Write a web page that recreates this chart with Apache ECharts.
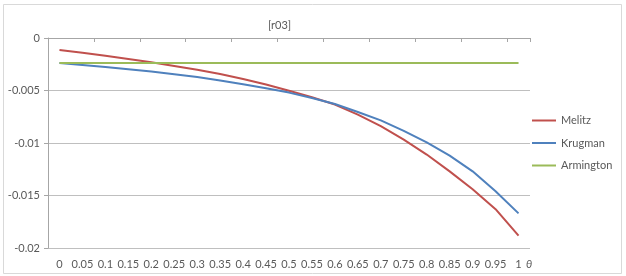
<!DOCTYPE html>
<html>
<head>
<meta charset="utf-8">
<script src="https://cdn.jsdelivr.net/npm/echarts@6/dist/echarts.min.js"></script>
<style>
  html, body { margin: 0; padding: 0; background: #fff; }
  #chart { width: 626px; height: 276px; }
</style>
</head>
<body>
<div id="chart"></div>
<script>
// theta from 0 to 1
const thetaLabels = ['0','0.05','0.1','0.15','0.2','0.25','0.3','0.35','0.4','0.45','0.5',
  '0.55','0.6','0.65','0.7','0.75','0.8','0.85','0.9','0.95','1'];

const melitz = [-0.00115,-0.00140,-0.00168,-0.00199,-0.00232,-0.00266,-0.00302,-0.00343,
  -0.00390,-0.00443,-0.00502,-0.00565,-0.00634,-0.00730,-0.00840,-0.00968,-0.01110,
  -0.01270,-0.01440,-0.01630,-0.01883];

const krugman = [-0.00238,-0.00256,-0.00276,-0.00297,-0.00320,-0.00345,-0.00372,-0.00405,
  -0.00440,-0.00478,-0.00520,-0.00572,-0.00628,-0.00705,-0.00785,-0.00885,-0.00995,
  -0.01120,-0.01270,-0.01460,-0.01670];

const armington = [-0.00238,-0.00238,-0.00238,-0.00238,-0.00238,-0.00238,-0.00238,-0.00238,
  -0.00238,-0.00238,-0.00238,-0.00238,-0.00238,-0.00238,-0.00238,-0.00238,-0.00238,
  -0.00238,-0.00238,-0.00238,-0.00238];

const yTicks = ['0', '-0.005', '-0.01', '-0.015', '-0.02'];

const FONT = 'Lato, "Liberation Sans", sans-serif';
const TXT = '#595959';

const chart = echarts.init(document.getElementById('chart'), null, { renderer: 'canvas' });

function lineSeries(name, data, color) {
  return {
    name, type: 'line', data,
    xAxisIndex: 0,
    symbol: 'none',
    smooth: false,
    lineStyle: { color, width: 2 },
    itemStyle: { color },
  };
}

chart.setOption({
  animation: false,
  backgroundColor: '#fff',
  graphic: [{
    type: 'rect',
    shape: { x: 3.5, y: 4.5, width: 618, height: 269 },
    style: { fill: 'none', stroke: '#d9d9d9', lineWidth: 1 },
    silent: true,
  }, {
    // axis title after the last category label
    type: 'text',
    x: 526, y: 259,
    style: { text: 'θ', fill: TXT, font: 'italic 11px ' + FONT },
    silent: true,
  }],
  title: {
    text: '[r03]',
    left: 263, top: 15,
    textStyle: { color: TXT, fontSize: 11, fontWeight: 'normal', fontFamily: FONT },
  },
  legend: {
    orient: 'vertical',
    left: 527, top: 109,
    icon: 'rect',
    itemWidth: 24, itemHeight: 2, itemGap: 9.5,
    textStyle: { color: TXT, fontSize: 11, fontFamily: FONT, lineHeight: 13 },
    data: ['Melitz', 'Krugman', 'Armington'],
  },
  grid: { left: 48, right: 96, top: 38, bottom: 28 },
  xAxis: [{
    type: 'category',
    position: 'top',
    data: thetaLabels,
    boundaryGap: true,
    axisLine: { show: true, onZero: false, lineStyle: { color: '#a6a6a6' } },
    axisTick: { show: true, inside: true, length: 4, lineStyle: { color: '#a6a6a6' } },
    axisLabel: { show: false },
    splitLine: { show: false },
  }, {
    type: 'category',
    position: 'bottom',
    data: thetaLabels,
    boundaryGap: true,
    axisLine: { show: false },
    axisTick: { show: false },
    axisLabel: { interval: 0, color: TXT, fontSize: 11, fontFamily: FONT, margin: 11 },
  }],
  yAxis: {
    type: 'value',
    min: -0.02, max: 0, interval: 0.005,
    axisLine: { show: true, lineStyle: { color: '#a6a6a6' } },
    axisTick: { show: true, length: 4, lineStyle: { color: '#a6a6a6' } },
    axisLabel: {
      color: TXT, fontSize: 11, fontFamily: FONT, margin: 8,
      formatter: (v) => yTicks[Math.round(-v / 0.005)],
    },
    splitLine: { show: true, lineStyle: { color: '#bfbfbf' } },
  },
  series: [
    lineSeries('Melitz', melitz, '#c0504d'),
    lineSeries('Krugman', krugman, '#4f81bd'),
    lineSeries('Armington', armington, '#9bbb59'),
  ],
});
</script>
</body>
</html>
